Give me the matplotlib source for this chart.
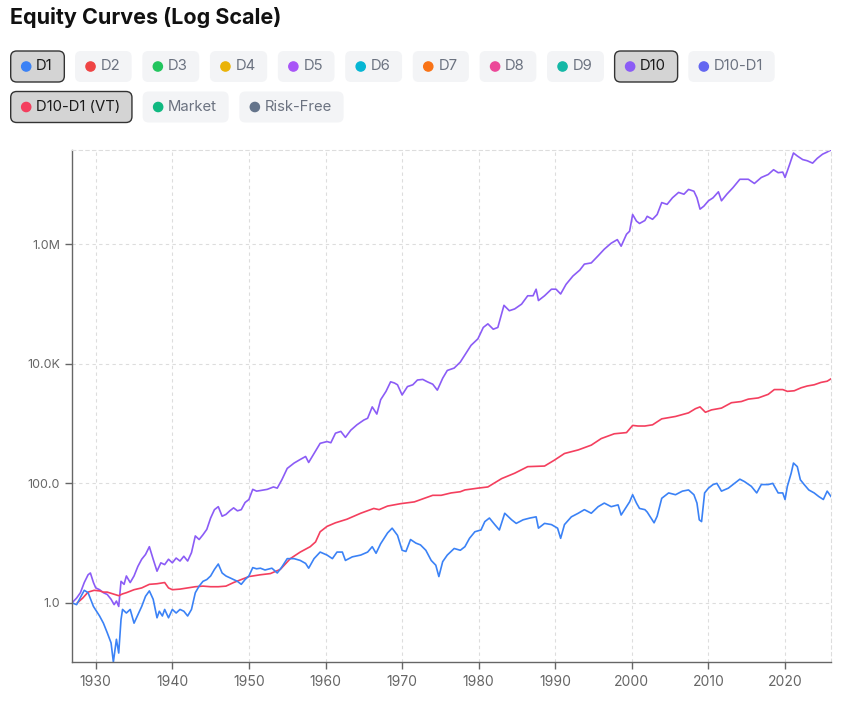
import numpy as np
import matplotlib
matplotlib.use("Agg")
from matplotlib import pyplot as plt
from matplotlib.patches import FancyBboxPatch, Circle
from matplotlib.ticker import FixedLocator, FuncFormatter, NullLocator

plt.rcParams["font.family"] = ["Inter", "DejaVu Sans"]

# equity curves, values as log10(growth of $1)
d1_years = [1926.9, 1927.5, 1928.5, 1929.0, 1929.7, 1930.5, 1931.0, 1931.5, 1932.0, 1932.3,
            1932.7, 1933.0, 1933.3, 1933.5, 1934.0, 1934.5, 1935.0, 1935.5, 1936.0, 1936.5,
            1937.0, 1937.5, 1938.0, 1938.3, 1938.7, 1939.0, 1939.5, 1940.0, 1940.5, 1941.0,
            1941.5, 1942.0, 1942.5, 1943.0, 1943.5, 1944.0, 1944.5, 1945.0, 1945.5, 1946.0,
            1946.5, 1947.0, 1948.0, 1948.5, 1949.0, 1949.5, 1950.0, 1950.5, 1951.0, 1951.5,
            1952.1, 1953.0, 1953.7, 1954.3, 1955.0, 1955.9, 1956.7, 1957.4, 1957.8, 1958.5,
            1959.3, 1960.2, 1960.9, 1961.5, 1962.2, 1962.6, 1963.5, 1964.6, 1965.5, 1966.1,
            1966.6, 1967.2, 1968.1, 1968.7, 1969.4, 1970.0, 1970.5, 1971.1, 1971.8, 1972.4,
            1973.1, 1973.8, 1974.4, 1974.8, 1975.3, 1975.9, 1976.8, 1977.6, 1978.2, 1978.8,
            1979.5, 1980.3, 1980.8, 1981.4, 1982.1, 1982.7, 1983.4, 1984.3, 1984.9, 1985.8,
            1986.7, 1987.5, 1987.8, 1988.6, 1989.5, 1990.3, 1990.7, 1991.2, 1992.1, 1993.0,
            1993.8, 1994.7, 1995.6, 1996.4, 1997.3, 1998.2, 1998.6, 1999.3, 1999.7, 2000.1,
            2000.6, 2001.0, 2001.7, 2002.0, 2002.5, 2002.9, 2003.3, 2003.9, 2004.8, 2005.7,
            2006.6, 2007.4, 2008.1, 2008.5, 2008.8, 2009.1, 2009.5, 2010.0, 2010.6, 2011.1,
            2011.7, 2012.6, 2013.4, 2014.1, 2014.7, 2015.6, 2016.3, 2016.9, 2017.8, 2018.4,
            2019.1, 2019.7, 2020.0, 2020.3, 2020.8, 2021.1, 2021.6, 2022.0, 2022.5, 2023.1,
            2023.8, 2024.4, 2025.0, 2025.5, 2026.0]
d1_log = [0.00, -0.03, 0.21, 0.17, -0.06, -0.22, -0.34, -0.50, -0.67, -0.99,
          -0.61, -0.84, -0.28, -0.11, -0.17, -0.11, -0.34, -0.20, -0.06, 0.11,
          0.20, 0.06, -0.25, -0.14, -0.22, -0.11, -0.25, -0.11, -0.17, -0.11,
          -0.14, -0.22, -0.11, 0.17, 0.28, 0.36, 0.39, 0.45, 0.56, 0.65,
          0.50, 0.45, 0.39, 0.36, 0.31, 0.39, 0.45, 0.59, 0.57, 0.58,
          0.55, 0.58, 0.50, 0.60, 0.74, 0.74, 0.71, 0.66, 0.58, 0.74,
          0.85, 0.80, 0.74, 0.85, 0.85, 0.71, 0.77, 0.80, 0.85, 0.94,
          0.83, 0.99, 1.17, 1.25, 1.13, 0.88, 0.86, 1.06, 1.00, 0.97,
          0.88, 0.71, 0.63, 0.44, 0.69, 0.80, 0.91, 0.88, 0.94, 1.08,
          1.19, 1.22, 1.36, 1.42, 1.31, 1.22, 1.50, 1.39, 1.33, 1.39,
          1.42, 1.44, 1.25, 1.33, 1.31, 1.25, 1.08, 1.31, 1.44, 1.50,
          1.56, 1.50, 1.61, 1.67, 1.61, 1.64, 1.47, 1.61, 1.69, 1.81,
          1.67, 1.58, 1.56, 1.52, 1.42, 1.34, 1.45, 1.75, 1.84, 1.81,
          1.87, 1.89, 1.81, 1.67, 1.39, 1.36, 1.84, 1.92, 1.98, 2.00,
          1.87, 1.92, 2.00, 2.07, 2.03, 1.95, 1.84, 1.98, 1.98, 2.00,
          1.84, 1.84, 1.73, 1.95, 2.17, 2.34, 2.28, 2.06, 1.98, 1.89,
          1.84, 1.78, 1.73, 1.87, 1.78]

d10_years = [1926.9, 1927.5, 1928.0, 1928.5, 1929.0, 1929.3, 1929.7, 1930.0, 1930.5, 1931.0,
             1931.5, 1932.0, 1932.4, 1932.7, 1933.0, 1933.3, 1933.7, 1934.0, 1934.5, 1935.0,
             1935.5, 1936.0, 1936.5, 1937.0, 1937.5, 1938.0, 1938.5, 1939.0, 1939.5, 1940.0,
             1940.5, 1941.0, 1941.5, 1942.0, 1942.5, 1943.0, 1943.5, 1944.0, 1944.5, 1945.0,
             1945.5, 1946.0, 1946.5, 1947.0, 1947.5, 1948.0, 1948.5, 1949.0, 1949.5, 1950.0,
             1950.5, 1951.0, 1951.5, 1952.4, 1953.2, 1953.7, 1954.3, 1955.0, 1955.9, 1956.7,
             1957.4, 1957.8, 1958.5, 1959.3, 1960.2, 1960.7, 1961.3, 1962.0, 1962.6, 1963.3,
             1964.1, 1965.0, 1965.5, 1966.1, 1966.7, 1967.2, 1967.9, 1968.5, 1969.0, 1969.4,
             1970.0, 1970.7, 1971.4, 1972.0, 1972.7, 1973.3, 1974.0, 1974.6, 1975.3, 1975.9,
             1976.8, 1977.6, 1978.4, 1979.0, 1979.9, 1980.6, 1981.2, 1981.9, 1982.5, 1983.3,
             1984.0, 1984.7, 1985.6, 1986.4, 1987.1, 1987.5, 1987.8, 1988.6, 1989.5, 1990.1,
             1990.7, 1991.4, 1992.3, 1993.2, 1993.8, 1994.7, 1995.6, 1996.4, 1997.3, 1998.1,
             1998.6, 1999.3, 1999.7, 2000.1, 2000.6, 2001.0, 2001.7, 2002.0, 2002.7, 2003.3,
             2003.9, 2004.6, 2005.3, 2006.1, 2006.8, 2007.4, 2008.1, 2008.5, 2008.9, 2009.4,
             2010.0, 2010.6, 2011.3, 2011.7, 2012.4, 2013.2, 2014.1, 2015.2, 2016.0, 2016.9,
             2017.8, 2018.5, 2019.1, 2019.7, 2020.0, 2020.6, 2021.1, 2021.6, 2022.3, 2022.9,
             2023.6, 2024.2, 2024.9, 2025.4, 2026.0]
d10_log = [0.00, 0.08, 0.17, 0.34, 0.47, 0.50, 0.34, 0.25, 0.22, 0.17,
           0.14, 0.06, -0.03, 0.03, -0.06, 0.36, 0.31, 0.45, 0.34, 0.45,
           0.61, 0.73, 0.81, 0.94, 0.73, 0.53, 0.67, 0.64, 0.73, 0.67,
           0.75, 0.70, 0.78, 0.70, 0.84, 1.12, 1.06, 1.14, 1.23, 1.42,
           1.56, 1.61, 1.45, 1.48, 1.54, 1.59, 1.54, 1.56, 1.68, 1.73,
           1.90, 1.87, 1.88, 1.90, 1.94, 1.92, 2.06, 2.25, 2.34, 2.40,
           2.45, 2.35, 2.50, 2.67, 2.70, 2.68, 2.84, 2.87, 2.77, 2.89,
           2.98, 3.06, 3.09, 3.28, 3.16, 3.40, 3.54, 3.70, 3.68, 3.65,
           3.48, 3.62, 3.65, 3.73, 3.74, 3.70, 3.66, 3.56, 3.76, 3.89,
           3.93, 4.03, 4.19, 4.31, 4.42, 4.61, 4.67, 4.58, 4.61, 4.98,
           4.89, 4.92, 5.00, 5.14, 5.14, 5.25, 5.06, 5.14, 5.25, 5.25,
           5.17, 5.33, 5.47, 5.57, 5.67, 5.69, 5.81, 5.92, 6.02, 6.08,
           5.97, 6.17, 6.22, 6.50, 6.39, 6.35, 6.40, 6.47, 6.42, 6.50,
           6.70, 6.67, 6.78, 6.87, 6.84, 6.92, 6.89, 6.78, 6.59, 6.64,
           6.73, 6.78, 6.88, 6.73, 6.84, 6.95, 7.09, 7.09, 7.02, 7.12,
           7.17, 7.25, 7.20, 7.21, 7.12, 7.34, 7.53, 7.48, 7.42, 7.40,
           7.36, 7.44, 7.51, 7.54, 7.58]

vt_years = [1927.6, 1928.3, 1929.0, 1929.8, 1930.5, 1931.0, 1931.5, 1932.0, 1932.5, 1933.0,
            1933.5, 1934.0, 1935.0, 1936.0, 1937.0, 1938.0, 1939.0, 1939.5, 1940.0, 1941.0,
            1942.0, 1943.0, 1944.0, 1945.0, 1946.0, 1947.0, 1948.0, 1949.0, 1950.0, 1951.0,
            1951.5, 1952.8, 1954.1, 1955.4, 1956.7, 1958.0, 1958.7, 1959.3, 1960.2, 1961.3,
            1962.8, 1964.6, 1966.3, 1967.0, 1968.1, 1969.8, 1971.6, 1972.9, 1974.0, 1975.1,
            1976.4, 1977.6, 1978.2, 1979.9, 1981.2, 1983.0, 1984.7, 1986.4, 1988.6, 1989.9,
            1991.2, 1993.0, 1994.7, 1996.0, 1997.7, 1999.3, 2000.1, 2000.8, 2001.7, 2002.7,
            2003.9, 2005.7, 2007.4, 2008.3, 2008.9, 2009.6, 2010.4, 2011.7, 2013.0, 2014.3,
            2015.2, 2016.5, 2017.8, 2018.6, 2019.7, 2020.3, 2021.2, 2022.1, 2022.9, 2023.8,
            2024.7, 2025.5, 2026.0]
vt_log = [0.00, 0.08, 0.18, 0.21, 0.20, 0.18, 0.18, 0.16, 0.14, 0.12,
          0.15, 0.17, 0.22, 0.25, 0.31, 0.32, 0.34, 0.25, 0.22, 0.23,
          0.25, 0.27, 0.28, 0.27, 0.27, 0.28, 0.34, 0.39, 0.44, 0.46,
          0.47, 0.49, 0.56, 0.74, 0.85, 0.94, 1.02, 1.19, 1.28, 1.34,
          1.40, 1.50, 1.58, 1.56, 1.62, 1.66, 1.69, 1.75, 1.80, 1.80,
          1.84, 1.86, 1.89, 1.92, 1.94, 2.08, 2.17, 2.28, 2.29, 2.39,
          2.50, 2.56, 2.64, 2.75, 2.83, 2.85, 2.97, 2.96, 2.96, 2.98,
          3.08, 3.12, 3.18, 3.25, 3.28, 3.19, 3.23, 3.26, 3.35, 3.37,
          3.41, 3.43, 3.49, 3.57, 3.57, 3.54, 3.55, 3.60, 3.63, 3.65,
          3.69, 3.71, 3.75]

legend_names = ["D1", "D2", "D3", "D4", "D5", "D6", "D7", "D8", "D9", "D10", "D10-D1",
                "D10-D1 (VT)", "Market", "Risk-Free"]
legend_colors = ["#3b82f6", "#ef4444", "#22c55e", "#eab308", "#a855f7", "#06b6d4", "#f97316",
                 "#ec4899", "#14b8a6", "#8b5cf6", "#6366f1", "#f43f5e", "#10b981", "#64748b"]
selected = ["D1", "D10", "D10-D1 (VT)"]

W, H = 855, 705
fig = plt.figure(figsize=(W / 100, H / 100), dpi=100)

# overlay axes in pixel units for title + toggle buttons
ov = fig.add_axes([0, 0, 1, 1])
ov.set_xlim(0, W)
ov.set_ylim(H, 0)
ov.axis("off")

ov.text(10, 18, "Equity Curves (Log Scale)", fontsize=15.5, fontweight="bold",
        color="#111111", va="center", ha="left")

renderer = fig.canvas.get_renderer()
x, y = 10.7, 66.5
row_h = 31
for name, col in zip(legend_names, legend_colors):
    on = name in selected
    t = ov.text(0, y, name, fontsize=10.7, va="center", ha="left",
                color="#1a1a1a" if on else "#6b7280", zorder=3)
    tw = t.get_window_extent(renderer).width
    bw = 25.5 + tw + 11.5
    if x + bw > W - 10:
        x = 10.7
        y += 40.5
        t.set_y(y)
    t.set_x(x + 25.5)
    box = FancyBboxPatch((x, y - row_h / 2), bw, row_h,
                         boxstyle="round,pad=0,rounding_size=6",
                         facecolor="#d4d4d4" if on else "#f3f4f6",
                         edgecolor="#333333" if on else "none",
                         linewidth=1.0, zorder=1)
    ov.add_patch(box)
    ov.add_patch(Circle((x + 15.5, y), 4.6, color=col, zorder=2))
    x += bw + 10.7

# main chart
ax = fig.add_axes([72 / W, 43 / H, 759 / W, 512 / H])
ax.plot(d10_years, 10 ** np.array(d10_log), color="#8b5cf6", lw=1.2)
ax.plot(vt_years, 10 ** np.array(vt_log), color="#f43f5e", lw=1.2)
ax.plot(d1_years, 10 ** np.array(d1_log), color="#3b82f6", lw=1.2)

ax.set_yscale("log")
all_log = d1_log + d10_log + vt_log
ax.set_ylim(10 ** min(all_log), 10 ** max(all_log))
ax.set_xlim(d1_years[0], d1_years[-1])


def fmt(v, pos):
    if v >= 1e6:
        return f"{v / 1e6:.1f}M"
    if v >= 1e3:
        return f"{v / 1e3:.1f}K"
    return f"{v:.1f}"


ax.yaxis.set_major_locator(FixedLocator([1, 1e2, 1e4, 1e6]))
ax.yaxis.set_major_formatter(FuncFormatter(fmt))
ax.yaxis.set_minor_locator(NullLocator())
ax.xaxis.set_major_locator(FixedLocator(list(range(1930, 2030, 10))))

ax.grid(True, color="#dddddd", linestyle=(0, (3, 3)), linewidth=0.8)
ax.set_axisbelow(True)
for s in ["left", "bottom"]:
    ax.spines[s].set_color("#666666")
    ax.spines[s].set_linewidth(1.0)
for s in ["top", "right"]:
    ax.spines[s].set_color("#dddddd")
    ax.spines[s].set_linestyle((0, (3, 3)))
    ax.spines[s].set_linewidth(0.8)
ax.tick_params(direction="out", length=5, width=1, color="#666666",
               labelcolor="#666666", labelsize=9)
ax.tick_params(axis="x", length=5, pad=4, labelsize=10)

fig.savefig("out.png", dpi=100)
